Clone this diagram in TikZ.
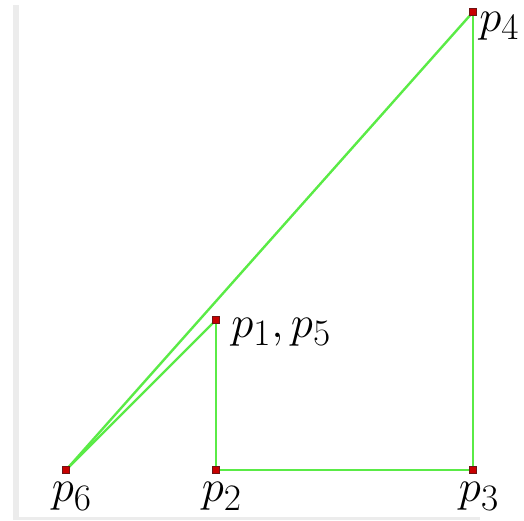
\documentclass[tikz,border=0pt]{standalone}
\begin{document}
\begin{tikzpicture}[x=1pt,y=-1pt,
  edge/.style={draw={rgb,255:red,90;green,235;blue,70},line width=2.4pt},
  pt/.style={fill={rgb,255:red,200;green,0;blue,0},draw={rgb,255:red,110;green,20;blue,20},line width=0.6pt,minimum size=6.5pt,inner sep=0pt,rectangle},
  lab/.style={font=\Huge,scale=1.8,inner sep=0pt}]
\useasboundingbox (0,0) rectangle (524,520);
\fill[gray!15] (13,5) rectangle (19,520);
\fill[gray!15] (13,517) rectangle (480,520);
\coordinate (p1) at (216,320);
\coordinate (p2) at (216,470);
\coordinate (p3) at (473,470);
\coordinate (p4) at (473,12);
\coordinate (p6) at (66,470);
\draw[edge] (p6) -- (p4);
\draw[edge] (p6) -- (p1);
\draw[edge] (p1) -- (p2);
\draw[edge] (p2) -- (p3);
\draw[edge] (p3) -- (p4);
\node[pt] (n1) at (p1) {};
\node[pt] (n2) at (p2) {};
\node[pt] (n3) at (p3) {};
\node[pt] (n4) at (p4) {};
\node[pt] (n6) at (p6) {};
\node[lab,anchor=west] (l4) at (479,26) {$p_4$};
\node[lab,anchor=west] (l1) at (231,332) {$p_1,p_5$};
\node[lab,anchor=north] (l6) at (72,482) {$p_6$};
\node[lab,anchor=north] (l2) at (222,482) {$p_2$};
\node[lab,anchor=north] (l3) at (479,482) {$p_3$};
\end{tikzpicture}
\end{document}
